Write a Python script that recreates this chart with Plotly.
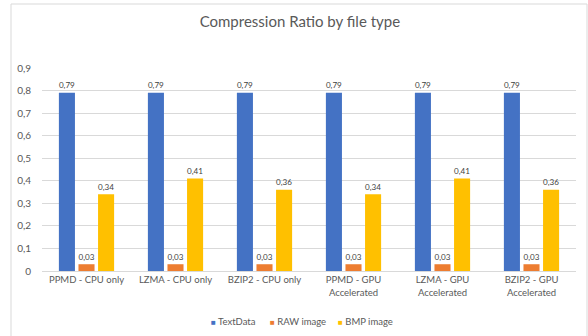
import plotly.graph_objects as go

categories = [
    "PPMD - CPU only",
    "LZMA - CPU only",
    "BZIP2 - CPU only",
    "PPMD - GPU<br>Accelerated",
    "LZMA - GPU<br>Accelerated",
    "BZIP2 - GPU<br>Accelerated",
]
text_data = [0.79, 0.79, 0.79, 0.79, 0.79, 0.79]
raw_image = [0.03, 0.03, 0.03, 0.03, 0.03, 0.03]
bmp_image = [0.34, 0.41, 0.36, 0.34, 0.41, 0.36]
y_ticks = [0, 0.1, 0.2, 0.3, 0.4, 0.5, 0.6, 0.7, 0.8, 0.9]

series_names = ["TextData", "RAW image", "BMP image"]
series_values = [text_data, raw_image, bmp_image]
series_colors = ["#4472C4", "#ED7D31", "#FFC000"]

FONT = "Lato, Open Sans, sans-serif"
TEXT_COLOR = "#595959"

fig = go.Figure()
for name, vals, color in zip(series_names, series_values, series_colors):
    fig.add_trace(go.Bar(
        x=categories, y=vals, name=name, showlegend=False,
        marker=dict(color=color, line=dict(width=0)),
        texttemplate="%{y:.2f}", textposition="outside",
        textfont=dict(size=10, color="#404040", family=FONT),
        cliponaxis=False,
    ))

# plot-area margins (px)
L, R, T, B = 42, 12, 68, 65
W, H = 588, 336
pw, ph = W - L - R, H - T - B

# compact legend row beneath the axis: small coloured square + series name
legend_left_px = [209, 268, 336]
legend_y = -(321 - (H - B)) / ph
annotations = []
for name, color, x_px in zip(series_names, series_colors, legend_left_px):
    annotations.append(dict(
        xref="paper", yref="paper",
        x=(x_px - L) / pw, y=legend_y, xanchor="left", yanchor="middle",
        showarrow=False,
        text=f"<span style='color:{color};font-size:8px'>■</span> {name}",
        font=dict(size=9.5, color=TEXT_COLOR, family=FONT),
    ))

fig.update_layout(
    width=W, height=H,
    margin=dict(l=L, r=R, t=T, b=B, autoexpand=False),
    paper_bgcolor="white", plot_bgcolor="white",
    separators=",.",
    barmode="group", bargap=0.34, bargroupgap=0.18,
    font=dict(family=FONT, size=10, color=TEXT_COLOR),
    title=dict(text="Compression Ratio by file type", x=0.51, xanchor="center",
               y=1 - 22 / H, yanchor="middle",
               font=dict(size=15, color=TEXT_COLOR, family=FONT)),
    showlegend=False,
    annotations=annotations,
    xaxis=dict(showgrid=False, showline=True, linecolor="#D9D9D9", linewidth=1,
               ticks="", automargin=False, tickfont=dict(size=9.5, color=TEXT_COLOR)),
    yaxis=dict(range=[0, 0.9], tickvals=y_ticks, showgrid=True,
               gridcolor="#D9D9D9", gridwidth=1, zeroline=False, showline=False,
               ticks="", automargin=False, tickfont=dict(size=10, color=TEXT_COLOR),
               ticklabelstandoff=10),
    shapes=[dict(
        type="rect", xref="paper", yref="paper",
        x0=(11 - L) / pw, x1=(587 - L) / pw,
        y0=-(345 - (H - B)) / ph, y1=((H - B) - 4) / ph,
        line=dict(color="#D9D9D9", width=1), fillcolor="rgba(0,0,0,0)", layer="below",
    )],
)

fig.write_html("out.html")
